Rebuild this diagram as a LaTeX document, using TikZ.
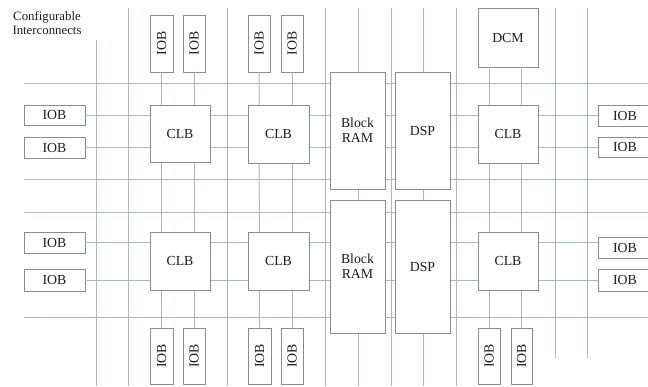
\documentclass[tikz,border=0pt]{standalone}
\usepackage{fontspec}
\setmainfont{Liberation Serif}
\definecolor{gridc}{HTML}{A3B9CF}
\definecolor{boxc}{HTML}{8C8C8C}
\definecolor{txtc}{HTML}{1E1E1E}
\begin{document}
\begin{tikzpicture}[x=1pt,y=-1pt,
  wire/.style={draw=gridc,line width=1pt},
  blk/.style={draw=boxc,fill=white,line width=0.9pt,inner sep=0pt,text=txtc,
    font=\fontsize{13.8}{15}\selectfont,align=center},
  lbl/.style={text=txtc,font=\fontsize{12.8}{14}\selectfont,align=center,inner sep=0pt}]
\useasboundingbox[fill=white] (0,0) rectangle (648,386);
% grid lines
\foreach \y in {83,179,212,317} {\draw[wire] (24,\y) -- (648,\y);}
\draw[wire] (96,40) -- (96,386);
\foreach \x in {128,227,325,358,391,423,456} {\draw[wire] (\x,8) -- (\x,386);}
\foreach \x in {555,587} {\draw[wire] (\x,8) -- (\x,358);}
% side IOBs
\path
  (54.5,115) node[blk,minimum width=61pt,minimum height=20pt] (iobL1) {}
  (54.5,147.5) node[blk,minimum width=61pt,minimum height=21pt] (iobL2) {}
  (54.5,242.5) node[blk,minimum width=61pt,minimum height=21pt] (iobL3) {}
  (54.5,280) node[blk,minimum width=61pt,minimum height=22pt] (iobL4) {}
  (627,115.5) node[blk,minimum width=58pt,minimum height=21pt] (iobR1) {}
  (627,147) node[blk,minimum width=58pt,minimum height=20pt] (iobR2) {}
  (627,247.5) node[blk,minimum width=58pt,minimum height=21pt] (iobR3) {}
  (627,280) node[blk,minimum width=58pt,minimum height=22pt] (iobR4) {};
% horizontal connectors
\draw[wire] (iobL1.east) -- (iobL1.east -| iobR1.west);
\draw[wire] (iobL2.east) -- (iobL2.east -| iobR2.west);
\draw[wire] (iobL3.east) -- (iobL3.east -| iobR3.west);
\draw[wire] (iobL4.east) -- (iobL4.east -| iobR4.west);
% top / bottom IOBs and DCM
\path
  (161.5,43.5) node[blk,minimum width=23pt,minimum height=57pt] (iobT1) {}
  (194,43.5) node[blk,minimum width=22pt,minimum height=57pt] (iobT2) {}
  (259,43.5) node[blk,minimum width=22pt,minimum height=57pt] (iobT3) {}
  (292,43.5) node[blk,minimum width=22pt,minimum height=57pt] (iobT4) {}
  (161.5,356) node[blk,minimum width=23pt,minimum height=56pt] (iobB1) {}
  (194,356) node[blk,minimum width=22pt,minimum height=56pt] (iobB2) {}
  (259.5,356) node[blk,minimum width=23pt,minimum height=56pt] (iobB3) {}
  (292,356) node[blk,minimum width=22pt,minimum height=56pt] (iobB4) {}
  (489,356) node[blk,minimum width=22pt,minimum height=56pt] (iobB5) {}
  (521.5,356) node[blk,minimum width=21pt,minimum height=56pt] (iobB6) {}
  (508,37.5) node[blk,minimum width=60pt,minimum height=59pt] (dcm) {};
\draw[wire] (iobT1.south) -- (iobB1.north);
\draw[wire] (iobT2.south) -- (iobB2.north);
\draw[wire] (iobT3.south) -- (iobB3.north);
\draw[wire] (iobT4.south) -- (iobB4.north);
\draw[wire] (iobB5.north) -- (iobB5.north |- dcm.south);
\draw[wire] (iobB6.north) -- (iobB6.north |- dcm.south);
% labels of boxes
\foreach \n in {iobT1,iobT2,iobT3,iobT4,iobB1,iobB2,iobB3,iobB4,iobB5,iobB6} {
  \node[lbl,rotate=90,font=\fontsize{13.8}{15}\selectfont] at (\n.center) {IOB};}
\foreach \n in {iobL1,iobL2,iobL3,iobL4} {
  \node[lbl,font=\fontsize{13.8}{15}\selectfont] at (\n.center) {IOB};}
\foreach \n in {iobR1,iobR2,iobR3,iobR4} {
  \node[lbl,font=\fontsize{13.8}{15}\selectfont] at ([xshift=-2pt]\n.center) {IOB};}
\node[lbl,font=\fontsize{13.8}{15}\selectfont] at (dcm.center) {DCM};
% CLBs, Block RAM, DSP
\node[blk,minimum width=60pt,minimum height=57pt] (clb1) at (180,133.5) {CLB};
\node[blk,minimum width=61pt,minimum height=58pt] (clb2) at (278.5,134) {CLB};
\node[blk,minimum width=60pt,minimum height=58pt] (clb3) at (508,134) {CLB};
\node[blk,minimum width=60pt,minimum height=58pt] (clb4) at (180,261) {CLB};
\node[blk,minimum width=61pt,minimum height=58pt] (clb5) at (278.5,261) {CLB};
\node[blk,minimum width=60pt,minimum height=58pt] (clb6) at (508,261) {CLB};
\node[blk,minimum width=55pt,minimum height=117pt] (ram1) at (357.5,130.5) {Block\\RAM};
\node[blk,minimum width=55pt,minimum height=133pt] (ram2) at (357.5,266.5) {Block\\RAM};
\node[blk,minimum width=55pt,minimum height=117pt] (dsp1) at (422.5,130.5) {DSP};
\node[blk,minimum width=55pt,minimum height=133pt] (dsp2) at (422.5,266.5) {DSP};
% label
\node[lbl] (cfg) at (47,23) {Configurable\\Interconnects};
\end{tikzpicture}
\end{document}
